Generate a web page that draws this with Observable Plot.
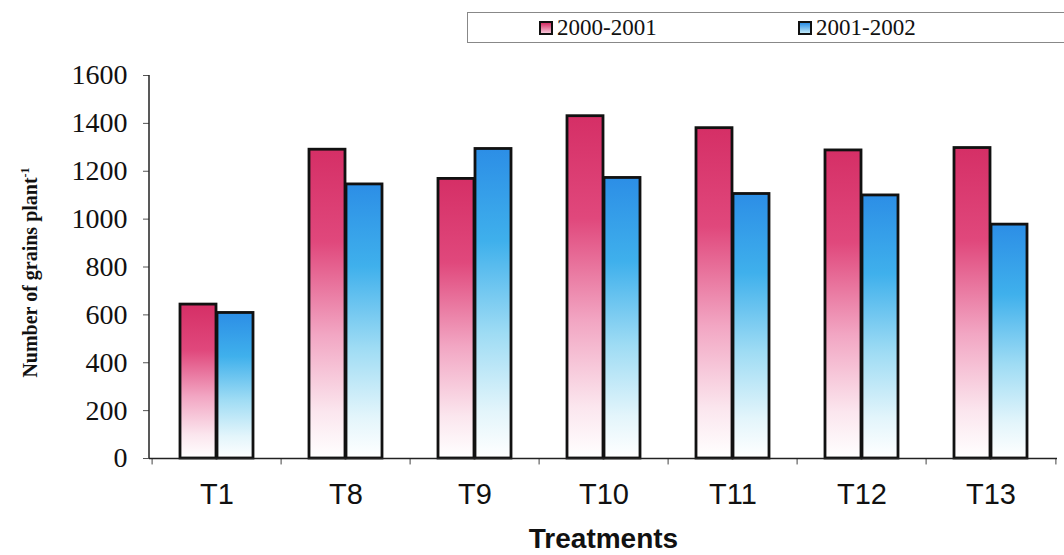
<!DOCTYPE html>
<html>
<head>
<meta charset="utf-8">
<script src="https://cdn.jsdelivr.net/npm/d3@7"></script>
<script src="https://cdn.jsdelivr.net/npm/@observablehq/plot@0.6"></script>
<style>
  html, body { margin: 0; padding: 0; background: #fff; }
  #wrap { position: relative; width: 1064px; height: 555px; overflow: hidden; }
  #legend { position: absolute; left: 467px; top: 12px; width: 600px; height: 29px;
            border: 1px solid #888; border-right: none; background: #fff;
            font-family: "Liberation Serif", "Times New Roman", serif; font-size: 23px; color: #111; }
  .item { position: absolute; top: 1px; display: flex; align-items: center; gap: 4px; line-height: 27px; }
  .sw { width: 10px; height: 10px; border: 2px solid #111; }
  #chart { position: absolute; left: 0; top: 50px; }
</style>
</head>
<body>
<div id="wrap">
  <div id="legend"></div>
  <div id="chart"></div>
</div>
<script>
const treatments = ["T1", "T8", "T9", "T10", "T11", "T12", "T13"];
const seasons = ["2000-2001", "2001-2002"];
const grains2000 = [643, 1290, 1168, 1430, 1380, 1287, 1297];
const grains2001 = [608, 1145, 1293, 1172, 1105, 1099, 977];
const yTicks = [0, 200, 400, 600, 800, 1000, 1200, 1400, 1600];
const yLabel = "Number of grains plant";
const yLabelSup = "-1";
const xLabel = "Treatments";

const rows2000 = treatments.map((t, i) => ({treatment: t, season: seasons[0], value: grains2000[i]}));
const rows2001 = treatments.map((t, i) => ({treatment: t, season: seasons[1], value: grains2001[i]}));

const serif = "Liberation Serif, Times New Roman, serif";
const sans = "Liberation Sans, Arial, sans-serif";

// y-axis line and rotated y-axis title
function yAxisDecor(index, scales, values, dims) {
  const g = d3.create("svg:g");
  const x0 = dims.marginLeft;
  g.append("line")
    .attr("x1", x0).attr("x2", x0)
    .attr("y1", scales.y(1600)).attr("y2", scales.y(0))
    .attr("stroke", "#222").attr("stroke-width", 1.5);
  const cy = (scales.y(0) + scales.y(1600)) / 2 + 6;
  const t = g.append("text")
    .attr("transform", `translate(37,${cy}) rotate(-90)`)
    .attr("text-anchor", "middle")
    .attr("font-family", serif).attr("font-size", 20).attr("font-weight", "bold")
    .attr("fill", "#111");
  t.append("tspan").text(yLabel);
  t.append("tspan").attr("dy", -8).attr("font-size", 12).text(yLabelSup);
  return g.node();
}

const chart = Plot.plot({
  width: 1064,
  height: 505,
  marginLeft: 149,
  marginRight: 7,
  marginTop: 25,
  marginBottom: 97,
  x: {type: "band", domain: treatments, paddingInner: 0, paddingOuter: 0, axis: null},
  y: {domain: [0, 1600], axis: null},
  marks: [
    Plot.axisY({ticks: yTicks, tickSize: 6, tickPadding: 16, stroke: "#555", label: null,
      fontFamily: serif, fontSize: 28, color: "#111", tickFormat: d => String(d)}),
    Plot.axisX({tickSize: 0, tickPadding: 25, fontFamily: sans, fontSize: 29, color: "#111", label: null}),
    Plot.ruleX(treatments, {x: d => d, dx: -64.9, y1: 0, y2: -27, stroke: "#444", strokeWidth: 1}),
    Plot.ruleX([treatments[treatments.length - 1]], {x: d => d, dx: 64.9, y1: 0, y2: -27, stroke: "#444", strokeWidth: 1}),
    Plot.barY(rows2000, {x: "treatment", y: "value", fill: "url(#gradPink)", stroke: "#111", strokeWidth: 2.8,
      insetLeft: 28, insetRight: 65}),
    Plot.barY(rows2001, {x: "treatment", y: "value", fill: "url(#gradBlue)", stroke: "#111", strokeWidth: 2.8,
      insetLeft: 65, insetRight: 28}),
    Plot.ruleY([0], {stroke: "#222", strokeWidth: 1.5}),
    yAxisDecor,
    Plot.text([xLabel], {frameAnchor: "bottom", dy: 89, text: d => d,
      fontFamily: sans, fontSize: 28, fontWeight: "bold", fill: "#111"})
  ]
});

const ns = "http://www.w3.org/2000/svg";
const defs = document.createElementNS(ns, "defs");
function grad(id, stops) {
  const g = document.createElementNS(ns, "linearGradient");
  g.setAttribute("id", id);
  g.setAttribute("x1", "0"); g.setAttribute("y1", "0");
  g.setAttribute("x2", "0"); g.setAttribute("y2", "1");
  for (const [o, c] of stops) {
    const s = document.createElementNS(ns, "stop");
    s.setAttribute("offset", o);
    s.setAttribute("stop-color", c);
    g.appendChild(s);
  }
  defs.appendChild(g);
}
grad("gradPink", [[0, "#d52f66"], [0.3, "#e0487c"], [0.6, "#f2a6c3"], [0.85, "#fbe6ee"], [1, "#ffffff"]]);
grad("gradBlue", [[0, "#2c8ee6"], [0.3, "#3fb0ec"], [0.6, "#9fdcf4"], [0.85, "#e3f5fb"], [1, "#ffffff"]]);
chart.insertBefore(defs, chart.firstChild);

document.getElementById("chart").appendChild(chart);

const legend = document.getElementById("legend");
const legendPos = [71, 330];
seasons.forEach((s, i) => {
  const item = document.createElement("div");
  item.className = "item";
  item.style.left = legendPos[i] + "px";
  const sw = document.createElement("span");
  sw.className = "sw";
  sw.style.background = i === 0
    ? "linear-gradient(#d52f66, #f6c6d8)"
    : "linear-gradient(#2c8ee6, #bfe8f7)";
  const label = document.createElement("span");
  label.textContent = s;
  item.appendChild(sw);
  item.appendChild(label);
  legend.appendChild(item);
});
</script>
</body>
</html>
